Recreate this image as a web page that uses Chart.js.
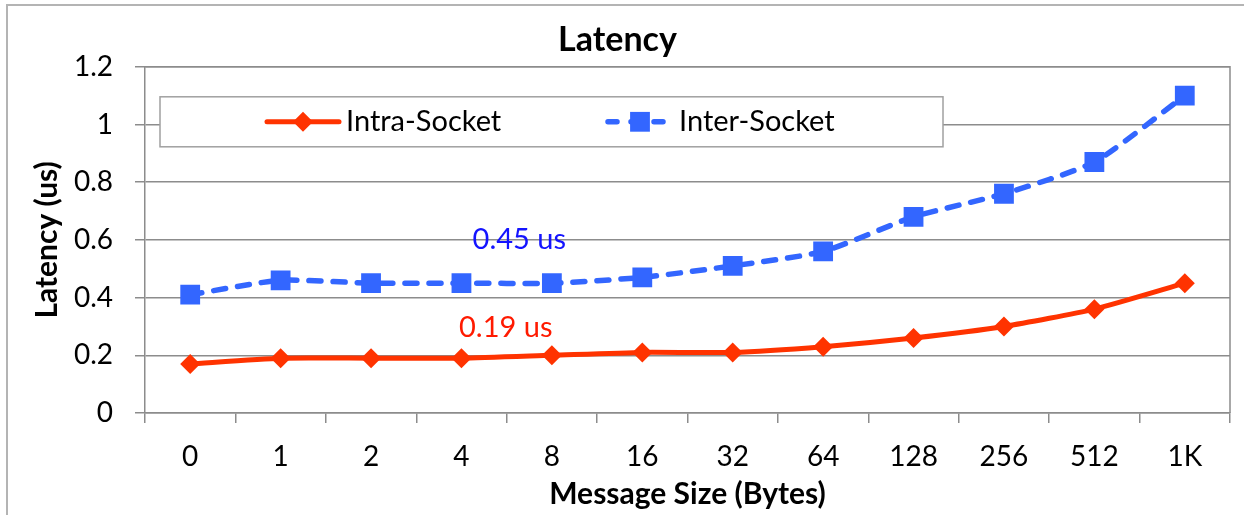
<!DOCTYPE html>
<html>
<head>
<meta charset="utf-8">
<script src="https://cdn.jsdelivr.net/npm/chart.js@4"></script>
<style>
html,body{margin:0;padding:0;background:#fff;}
#wrap{width:1244px;height:515px;position:relative;}
</style>
</head>
<body>
<div id="wrap"><canvas id="c" width="1244" height="515"></canvas></div>
<script>
const categories = ['0','1','2','4','8','16','32','64','128','256','512','1K'];
const intraSocket = [0.17,0.19,0.19,0.19,0.20,0.21,0.21,0.23,0.26,0.30,0.36,0.45];
const interSocket = [0.41,0.46,0.45,0.45,0.45,0.47,0.51,0.56,0.68,0.76,0.87,1.10];
const seriesNames = ['Intra-Socket','Inter-Socket'];
const annotationTexts = ['0.45 us','0.19 us'];
const annotationX = [3.64, 3.49];
const annotationY = [0.60, 0.295];
const annotationColors = ['#1414ff','#ff1a00'];

const FONT = 'Lato, "Open Sans", sans-serif';
const ORANGE = '#ff3300';
const BLUE = '#3366ff';
const GRID = '#8c8c8c';

const framePlugin = {
  id: 'frame',
  beforeDraw(chart) {
    const ctx = chart.ctx;
    ctx.save();
    ctx.fillStyle = '#fff';
    ctx.fillRect(0, 0, chart.width, chart.height);
    ctx.strokeStyle = '#b4b4b4';
    ctx.lineWidth = 2;
    ctx.beginPath();
    ctx.moveTo(7, chart.height);
    ctx.lineTo(7, 5);
    ctx.lineTo(chart.width, 5);
    ctx.stroke();
    ctx.restore();
  },
  afterDraw(chart) {
    const a = chart.chartArea;
    const ctx = chart.ctx;
    ctx.save();
    ctx.strokeStyle = GRID;
    ctx.lineWidth = 1.5;
    ctx.beginPath();
    ctx.moveTo(a.left, a.top);
    ctx.lineTo(a.right, a.top);
    ctx.lineTo(a.right, a.bottom);
    ctx.stroke();
    ctx.restore();
  }
};

const legendBoxPlugin = {
  id: 'legendBox',
  beforeDatasetsDraw(chart) {
    const ctx = chart.ctx;
    const a = chart.chartArea;
    const bx = a.left + 15, by = a.top + 30, bw = 783, bh = 50;
    ctx.save();
    ctx.fillStyle = '#fff';
    ctx.fillRect(bx, by, bw, bh);
    ctx.strokeStyle = '#a0a0a0';
    ctx.lineWidth = 1.5;
    ctx.strokeRect(bx, by, bw, bh);
    const cy = by + bh / 2;
    const items = [
      {x0: bx + 107, x1: bx + 179, ds: chart.data.datasets[0]},
      {x0: bx + 448, x1: bx + 512, ds: chart.data.datasets[1]}
    ];
    items.forEach((it, i) => {
      const ds = it.ds;
      ctx.strokeStyle = ds.borderColor;
      ctx.lineWidth = ds.borderWidth;
      ctx.lineCap = 'round';
      ctx.setLineDash(ds.borderDash ? [9, 14] : []);
      ctx.beginPath();
      ctx.moveTo(it.x0, cy);
      ctx.lineTo(it.x1, cy);
      ctx.stroke();
      ctx.setLineDash([]);
      const mx = (it.x0 + it.x1) / 2;
      ctx.fillStyle = ds.pointBackgroundColor;
      ctx.beginPath();
      if (ds.pointStyle === 'rectRot') {
        const r = ds.pointRadius;
        ctx.moveTo(mx - r, cy); ctx.lineTo(mx, cy - r); ctx.lineTo(mx + r, cy); ctx.lineTo(mx, cy + r);
      } else {
        const s = ds.pointRadius * Math.SQRT1_2;
        ctx.rect(mx - s, cy - s, 2 * s, 2 * s);
      }
      ctx.closePath();
      ctx.fill();
      ctx.fillStyle = '#000';
      ctx.font = '29px ' + FONT;
      ctx.textBaseline = 'middle';
      ctx.textAlign = 'left';
      ctx.fillText(seriesNames[i], it.x1 + 7, cy);
    });
    ctx.restore();
  },
  afterDatasetsDraw(chart) {
    const ctx = chart.ctx;
    const xs = chart.scales.x, ys = chart.scales.y;
    ctx.save();
    ctx.font = '29px ' + FONT;
    ctx.textAlign = 'center';
    ctx.textBaseline = 'middle';
    annotationTexts.forEach((t, i) => {
      ctx.fillStyle = annotationColors[i];
      ctx.fillText(t, xs.getPixelForValue(annotationX[i]), ys.getPixelForValue(annotationY[i]));
    });
    ctx.restore();
  }
};

new Chart(document.getElementById('c'), {
  type: 'line',
  data: {
    labels: categories,
    datasets: [
      {
        label: seriesNames[0],
        data: intraSocket,
        borderColor: ORANGE,
        backgroundColor: ORANGE,
        pointBackgroundColor: ORANGE,
        pointBorderWidth: 0,
        borderWidth: 5,
        pointStyle: 'rectRot',
        pointRadius: 10,
        tension: 0.2
      },
      {
        label: seriesNames[1],
        data: interSocket,
        borderColor: BLUE,
        backgroundColor: BLUE,
        pointBackgroundColor: BLUE,
        pointBorderWidth: 0,
        borderWidth: 5.5,
        borderDash: [12, 12],
        borderCapStyle: 'round',
        pointStyle: 'rect',
        pointRadius: 14,
        tension: 0.2
      }
    ]
  },
  options: {
    responsive: false,
    animation: false,
    layout: {padding: {left: 0, right: 9, top: 0, bottom: 0}},
    plugins: {
      legend: {display: false},
      tooltip: {enabled: false},
      title: {
        display: true,
        text: 'Latency',
        color: '#000',
        font: {family: FONT, size: 34, weight: 'bold', lineHeight: 1.2},
        padding: {top: 20, bottom: 6}
      }
    },
    scales: {
      x: {
        offset: true,
        grid: {offset: true, drawOnChartArea: false, drawTicks: true, tickLength: 10, color: GRID, lineWidth: 1.5},
        border: {display: true, color: GRID, width: 1.5},
        ticks: {color: '#000', font: {family: FONT, size: 28}, padding: 17, maxRotation: 0, autoSkip: false},
        title: {display: true, text: 'Message Size (Bytes)', color: '#000', font: {family: FONT, size: 30, weight: 'bold', lineHeight: 1.2}, padding: {top: 0, bottom: 3}},
        afterFit(s) { s.height = 102; }
      },
      y: {
        min: 0, max: 1.2,
        grid: {color: GRID, lineWidth: 1.5, tickLength: 10, drawTicks: true},
        border: {display: true, color: GRID, width: 1.5},
        ticks: {stepSize: 0.2, color: '#000', font: {family: FONT, size: 28}, padding: 22,
          callback: v => String(Math.round(v * 10) / 10)},
        title: {display: true, text: 'Latency (us)', color: '#000', font: {family: FONT, size: 30, weight: 'bold', lineHeight: 1.2}, padding: {top: 29, bottom: 0}},
        afterFit(s) { s.width = 145; }
      }
    }
  },
  plugins: [framePlugin, legendBoxPlugin]
});
</script>
</body>
</html>
